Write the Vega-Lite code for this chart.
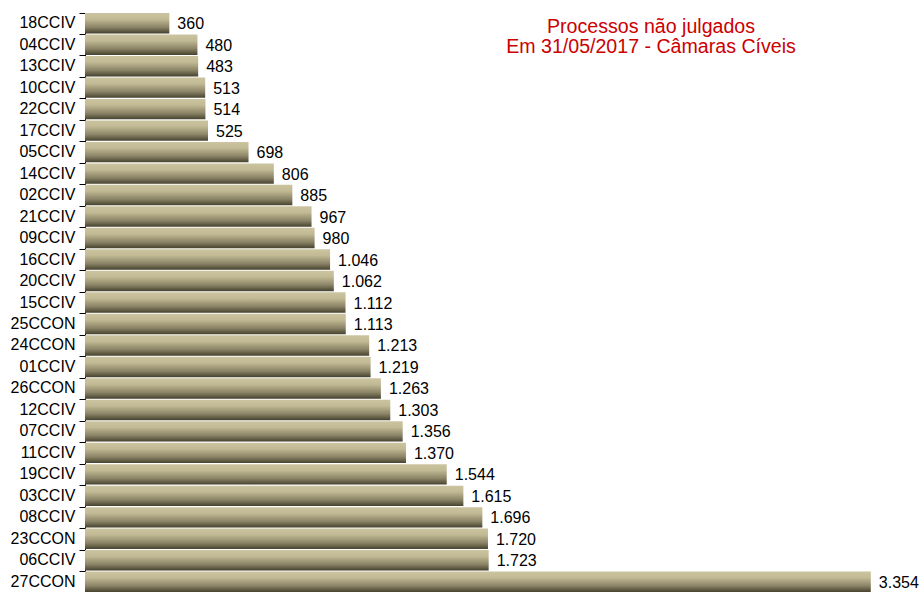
{
  "$schema": "https://vega.github.io/schema/vega-lite/v6.json",
  "autosize": "none",
  "width": 820,
  "height": 579,
  "padding": {"left": 85, "top": 13, "right": 15, "bottom": 0},
  "background": "white",
  "config": {
    "view": {"stroke": null},
    "font": "Liberation Sans",
    "locale": {"number": {"decimal": ",", "thousands": ".", "grouping": [3], "currency": ["R$", ""]}}
  },
  "title": {
    "text": ["Processos não julgados", "Em 31/05/2017 - Câmaras Cíveis"],
    "font": "Liberation Sans",
    "fontSize": 19.6,
    "fontWeight": "normal",
    "color": "#cc0000",
    "lineHeight": 20,
    "anchor": "middle",
    "frame": "group",
    "orient": "top",
    "baseline": "top",
    "offset": 0,
    "dx": 156,
    "dy": 45
  },
  "data": {
    "values": [
      {"camara": "18CCIV", "processos": 360},
      {"camara": "04CCIV", "processos": 480},
      {"camara": "13CCIV", "processos": 483},
      {"camara": "10CCIV", "processos": 513},
      {"camara": "22CCIV", "processos": 514},
      {"camara": "17CCIV", "processos": 525},
      {"camara": "05CCIV", "processos": 698},
      {"camara": "14CCIV", "processos": 806},
      {"camara": "02CCIV", "processos": 885},
      {"camara": "21CCIV", "processos": 967},
      {"camara": "09CCIV", "processos": 980},
      {"camara": "16CCIV", "processos": 1046},
      {"camara": "20CCIV", "processos": 1062},
      {"camara": "15CCIV", "processos": 1112},
      {"camara": "25CCON", "processos": 1113},
      {"camara": "24CCON", "processos": 1213},
      {"camara": "01CCIV", "processos": 1219},
      {"camara": "26CCON", "processos": 1263},
      {"camara": "12CCIV", "processos": 1303},
      {"camara": "07CCIV", "processos": 1356},
      {"camara": "11CCIV", "processos": 1370},
      {"camara": "19CCIV", "processos": 1544},
      {"camara": "03CCIV", "processos": 1615},
      {"camara": "08CCIV", "processos": 1696},
      {"camara": "23CCON", "processos": 1720},
      {"camara": "06CCIV", "processos": 1723},
      {"camara": "27CCON", "processos": 3354}
    ]
  },
  "encoding": {
    "y": {
      "field": "camara",
      "type": "nominal",
      "sort": null,
      "scale": {"paddingInner": 0.05, "paddingOuter": 0},
      "axis": {
        "title": null,
        "domainColor": "black",
        "domainWidth": 1,
        "tickColor": "black",
        "tickSize": 6,
        "bandPosition": 0,
        "labelFont": "Liberation Sans",
        "labelFontSize": 16,
        "labelColor": "black",
        "labelPadding": 4
      }
    },
    "x": {
      "field": "processos",
      "type": "quantitative",
      "scale": {"domain": [0, 3500], "nice": false},
      "axis": null
    }
  },
  "layer": [
    {
      "mark": {
        "type": "bar",
        "color": {
          "gradient": "linear",
          "x1": 0, "y1": 0, "x2": 0, "y2": 1,
          "stops": [
            {"offset": 0, "color": "#ccc4a0"},
            {"offset": 0.3, "color": "#c2ba94"},
            {"offset": 0.7, "color": "#8a8366"},
            {"offset": 1, "color": "#46422e"}
          ]
        }
      }
    },
    {
      "mark": {
        "type": "text",
        "align": "left",
        "baseline": "middle",
        "dx": 8,
        "dy": 1,
        "font": "Liberation Sans",
        "fontSize": 16,
        "color": "black"
      },
      "encoding": {
        "text": {"field": "processos", "type": "quantitative", "format": ",d"}
      }
    }
  ]
}
